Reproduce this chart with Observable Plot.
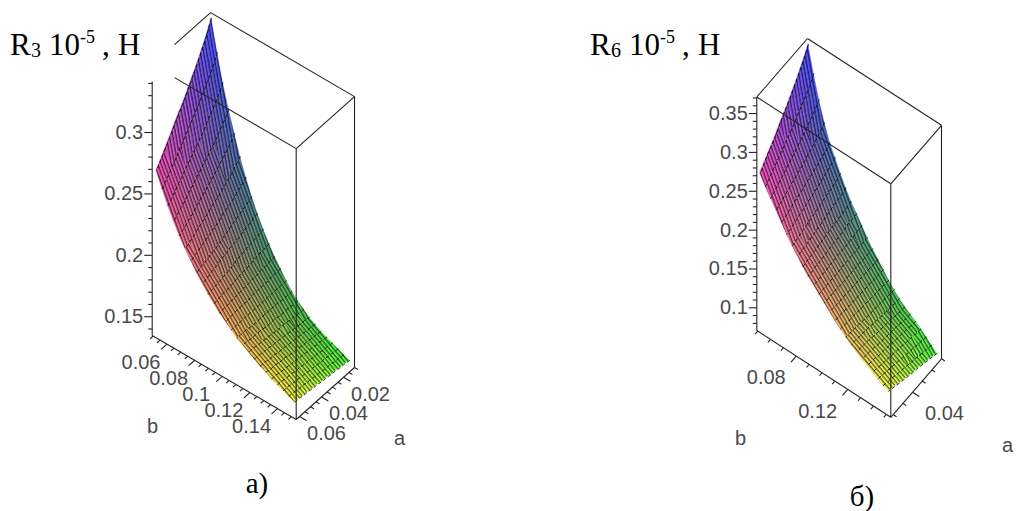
<!DOCTYPE html>
<html><head><meta charset="utf-8">
<script src="https://cdn.jsdelivr.net/npm/d3@7"></script>
<script src="https://cdn.jsdelivr.net/npm/@observablehq/plot@0.6"></script>
<style>html,body{margin:0;padding:0;background:#fff}svg{display:block}</style>
</head><body><div id="chart"></div>
<script>
// Grid of the surfaces
const aGrid = [.0100,.0142,.0183,.0225,.0267,.0308,.0350,.0392,.0433,.0475,.0517,.0558,.0600];
const bGrid = [.0500,.0542,.0583,.0625,.0667,.0708,.0750,.0792,.0833,.0875,.0917,.0958,.1000,.1042,.1083,.1125,.1167,.1208,.1250,.1292,.1333,.1375,.1417,.1458,.1500];
// R3 in thousandths: one row per b, one column per a
const r3 = [
[351,341,333,325,318,311,304,298,292,285,279,273,267],
[326,317,311,304,298,292,287,281,276,270,265,260,255],
[304,297,291,286,280,275,271,266,262,257,253,248,244],
[285,279,274,269,265,261,257,253,249,245,241,238,234],
[268,263,259,255,251,248,244,241,238,234,231,228,225],
[252,248,244,241,238,235,233,230,227,225,222,219,217],
[238,235,232,229,227,225,222,220,218,216,214,212,210],
[225,223,221,219,217,215,213,211,209,208,206,205,203],
[214,213,211,210,208,207,206,204,203,201,200,198,197],
[204,203,202,201,200,199,198,196,195,194,193,192,191],
[195,194,194,193,192,191,191,190,189,188,188,187,186],
[187,187,186,186,185,185,184,184,183,183,182,182,181],
[180,180,180,179,179,179,179,178,178,178,178,177,177],
[173,173,173,173,173,173,173,173,173,173,173,173,173],
[167,167,167,168,168,168,168,168,168,168,169,169,169],
[162,162,163,163,163,164,164,164,165,165,165,166,166],
[158,158,159,159,160,160,160,161,161,162,162,163,163],
[154,155,155,156,156,157,157,158,158,159,159,160,160],
[151,152,152,153,153,154,154,155,155,156,156,157,157],
[148,149,149,150,150,151,151,152,153,153,154,154,155],
[146,147,147,148,148,149,149,150,150,151,151,152,152],
[144,145,145,146,146,147,147,148,148,149,149,150,150],
[142,143,143,144,144,145,145,146,146,147,147,148,148],
[140,141,141,142,142,143,143,144,144,145,145,146,146],
[138,139,139,140,140,141,141,142,142,143,143,144,144]];
// R6 in thousandths
const r6 = [
[364,353,344,335,327,319,312,305,297,290,284,277,270],
[331,322,315,309,302,296,290,285,279,274,269,263,258],
[302,295,290,285,280,276,271,267,263,259,255,251,247],
[277,272,268,264,261,257,254,251,248,245,242,239,236],
[256,252,249,246,244,241,239,236,234,232,229,227,225],
[241,238,235,233,230,228,226,224,222,220,218,216,214],
[225,222,220,219,217,215,213,212,210,209,207,205,204],
[211,209,208,207,205,204,202,201,200,198,197,196,195],
[198,197,196,195,194,193,192,191,190,189,188,187,186],
[187,186,186,185,184,183,183,182,181,180,180,179,178],
[176,176,175,175,174,174,174,173,173,172,172,171,171],
[165,165,165,165,165,165,165,164,164,164,164,164,164],
[155,155,155,156,156,156,156,156,156,157,157,157,157],
[146,146,147,147,147,148,148,148,149,149,149,150,150],
[137,138,138,139,139,140,140,141,141,142,142,143,143],
[128,129,130,130,131,132,132,133,134,135,135,136,137],
[120,121,122,123,124,125,125,126,127,128,129,130,131],
[113,114,115,116,117,118,119,121,122,123,124,125,126],
[107,108,109,111,112,113,114,115,116,118,119,120,121],
[102,103,104,106,107,108,109,110,111,113,114,115,116],
[97,98,100,101,102,103,104,106,107,108,110,111,112],
[92,93,95,96,97,99,100,101,103,104,105,107,108],
[86,88,89,91,92,94,95,97,98,100,101,103,104],
[80,82,83,85,87,88,90,92,93,95,97,98,100],
[74,76,78,80,82,84,85,87,89,91,93,95,97]];
// Ticks and labels
const zMajor3 = [.15,.2,.25,.3];
const zMinor3 = [.14,.16,.17,.18,.19,.21,.22,.23,.24,.26,.27,.28,.29,.31,.32,.33,.34];
const bMajor3 = [.06,.08,.1,.12,.14];
const bMinor3 = [.05,.055,.065,.07,.075,.085,.09,.095,.105,.11,.115,.125,.13,.135,.145,.15];
const aMajor3 = [.02,.04,.06];
const aMinor3 = [.01,.015,.025,.03,.035,.045,.05,.055];
const zMajor6 = [.1,.15,.2,.25,.3,.35];
const zMinor6 = [.08,.09,.11,.12,.13,.14,.16,.17,.18,.19,.21,.22,.23,.24,.26,.27,.28,.29,.31,.32,.33,.34,.36,.37];
const bMajor6 = [.08,.12];
const bMinor6 = [.05,.06,.07,.09,.1,.11,.13,.14,.15];
const aMajor6 = [.04];
const aMinor6 = [.01,.02,.03,.05,.06];

const panels = [
 {table:r3, origin:[210,283], aVec:[-58.3,52], bVec:[144,84], aBox:[.01,.063], bBox:[.0493,.1535],
  zBase:.1347, zPx:1228, zTop:.3553, zAxisTop:.3415,
  aCut:.617, bCut:.155, zMajor:zMajor3, zMinor:zMinor3, bMajor:bMajor3, bMinor:bMinor3, aMajor:aMajor3, aMinor:aMinor3,
  bOff:[-26,18], aOff:[27,17], zRange:[.138,.351], bLab:[152,426], aLab:[399,438]},
 {table:r6, origin:[807,271.5], aVec:[-50.7,58.5], bVec:[134,86.8], aBox:[.01,.0625], bBox:[.0493,.1535],
  zBase:.0708, zPx:777, zTop:.3713, zAxisTop:.3713,
  aCut:1, bCut:0, zMajor:zMajor6, zMinor:zMinor6, bMajor:bMajor6, bMinor:bMinor6, aMajor:aMajor6, aMinor:aMinor6,
  bOff:[-30,22], aOff:[32,21], zRange:[.074,.364], bLab:[740,438], aLab:[1007,445]}
];
const hatchAngles = [10,20,30,40,50,60,70,80];

function projector(P){
  return (a,b,z)=>{
    const u=(a-P.aBox[0])/(P.aBox[1]-P.aBox[0]), v=(b-P.bBox[0])/(P.bBox[1]-P.bBox[0]);
    return [P.origin[0]+u*P.aVec[0]+v*P.bVec[0],
            P.origin[1]+u*P.aVec[1]+v*P.bVec[1]-(z-P.zBase)*P.zPx];
  };
}
function shade(P,i,j){
  const u=j/(aGrid.length-1), v=i/(bGrid.length-1);
  const w=(P.table[i][j]/1000-P.zRange[0])/(P.zRange[1]-P.zRange[0]);
  const c=t=>Math.min(255,Math.round(255*t));
  return `rgb(${c(.32+.68*u)},${c(.32+.68*v)},${c(.24+.76*w)})`;
}
function panelMarks(P){
  const pr=projector(P), cells=[], rows=[];
  P.table.forEach((row,i)=>row.forEach((zv,j)=>{
    const p=pr(aGrid[j],bGrid[i],zv/1000);
    rows.push({x:p[0],y:p[1],k:"r"+i,o:j});
    if(i<P.table.length-1 && j<row.length-1){
      const id=i+"_"+j, col=shade(P,i,j);
      const p01=pr(aGrid[j+1],bGrid[i],row[j+1]/1000);
      const p10=pr(aGrid[j],bGrid[i+1],P.table[i+1][j]/1000);
      const p11=pr(aGrid[j+1],bGrid[i+1],P.table[i+1][j+1]/1000);
      const deg=Math.atan2(p10[1]-p[1],p10[0]-p[0])*180/Math.PI;
      const ang=Math.max(10,Math.min(80,Math.round(deg/10)*10));
      const h="url(#hatch"+ang+")";
      cells.push({id,c:col,h,x1:p[0],y1:p[1],x2:p01[0],y2:p01[1]});
      cells.push({id,c:col,h,x1:p10[0],y1:p10[1],x2:p11[0],y2:p11[1]});
    }
  }));
  const [a0,a1]=P.aBox,[b0,b1]=P.bBox,zb=P.zBase,zt=P.zTop;
  const aC=a0+(a1-a0)*P.aCut, bC=b0+(b1-b0)*P.bCut;
  const seg=(s,e)=>{const A=pr(...s),B=pr(...e);return {x1:A[0],y1:A[1],x2:B[0],y2:B[1]};};
  const edges=[
    seg([a1,b0,zb],[a1,b1,zb]), seg([a1,b1,zb],[a0,b1,zb]),
    seg([a1,b0,zb],[a1,b0,P.zAxisTop]), seg([a1,b1,zb],[a1,b1,zt]), seg([a0,b1,zb],[a0,b1,zt]),
    seg([a1,b1,zt],[a0,b1,zt]), seg([a0,b1,zt],[a0,b0,zt]),
    seg([a0,b0,zt],[aC,b0,zt]), seg([a1,bC,zt],[a1,b1,zt])
  ];
  const unit=v=>{const n=Math.hypot(v[0],v[1]);return [v[0]/n,v[1]/n];};
  const ua=unit(P.aVec), ub=unit(P.bVec), ticks=[];
  const add=(p,d,len)=>ticks.push({x1:p[0],y1:p[1],x2:p[0]+d[0]*len,y2:p[1]+d[1]*len});
  P.zMajor.forEach(z=>add(pr(a1,b0,z),[-1,0],8));
  P.zMinor.forEach(z=>add(pr(a1,b0,z),[-1,0],4));
  P.bMajor.forEach(b=>add(pr(a1,b,zb),ua,8));
  P.bMinor.forEach(b=>add(pr(a1,b,zb),ua,4));
  P.aMajor.forEach(a=>add(pr(a,b1,zb),ub,8));
  P.aMinor.forEach(a=>add(pr(a,b1,zb),ub,4));
  const lab=(v,p,off)=>({x:p[0]+off[0],y:p[1]+off[1],t:String(v)});
  const zLabels=P.zMajor.map(z=>lab(z,pr(a1,b0,z),[-9,0]));
  const otherLabels=[
    ...P.bMajor.map(b=>lab(b,pr(a1,b,zb),P.bOff)),
    ...P.aMajor.map(a=>lab(a,pr(a,b1,zb),P.aOff))
  ];
  const names=[{x:P.bLab[0],y:P.bLab[1],t:"b"},{x:P.aLab[0],y:P.aLab[1],t:"a"}];
  const font={fontFamily:"Liberation Sans",fill:"#4a4a4a"};
  const cellOpts={x1:"x1",y1:"y1",x2:"x2",y2:"y2",z:"id"};
  return [
    Plot.area(cells,{...cellOpts,fill:"c",stroke:"c",strokeWidth:.4}),
    Plot.area(cells,{...cellOpts,fill:"h"}),
    Plot.line(rows,{x:"x",y:"y",z:"k",sort:"o",stroke:"#000",strokeWidth:1,strokeOpacity:.8,strokeDasharray:"3 3"}),
    Plot.link(edges,{x1:"x1",y1:"y1",x2:"x2",y2:"y2",stroke:"#222",strokeWidth:1.1}),
    Plot.link(ticks,{x1:"x1",y1:"y1",x2:"x2",y2:"y2",stroke:"#222",strokeWidth:1.1}),
    Plot.text(zLabels,{x:"x",y:"y",text:"t",textAnchor:"end",fontSize:20,...font}),
    Plot.text(otherLabels,{x:"x",y:"y",text:"t",fontSize:20,...font}),
    Plot.text(names,{x:"x",y:"y",text:"t",fontSize:20,...font})
  ];
}
const svg=Plot.plot({width:1032,height:511,margin:0,
  x:{domain:[0,1032],range:[0,1032],axis:null},
  y:{domain:[0,511],range:[0,511],axis:null},
  color:{type:"identity"},
  style:{background:"#fff"},
  marks:panels.flatMap(panelMarks)});
document.getElementById("chart").append(svg);

// Fine mesh texture used on the surfaces
const defs=d3.select(svg).insert("defs",":first-child");
hatchAngles.forEach(a=>{
  const p=defs.append("pattern").attr("id","hatch"+a).attr("patternUnits","userSpaceOnUse")
    .attr("width",10).attr("height",3.2).attr("patternTransform",`rotate(${a})`);
  p.append("rect").attr("width",10).attr("height",1.3).attr("fill","#000").attr("fill-opacity",.6);
});

// Hand-set headings and captions, kept as real text
const heading=(x0,sub)=>{
  const t=d3.select(svg).append("text").attr("y",55).attr("text-anchor","start").attr("font-family","Liberation Serif").attr("font-size",31).attr("fill","#000");
  t.append("tspan").attr("x",x0).text("R");
  t.append("tspan").attr("x",x0+21).attr("dy",2).attr("font-size",20).text(sub);
  t.append("tspan").attr("x",x0+39).attr("dy",-2).text("10");
  t.append("tspan").attr("x",x0+70).attr("dy",-12).attr("font-size",18).text("-5");
  t.append("tspan").attr("x",x0+92).attr("dy",12).text(",");
  t.append("tspan").attr("x",x0+108).text("H");
};
heading(10,"3"); heading(590,"6");
const cap=(x,y,s)=>d3.select(svg).append("text").attr("x",x).attr("y",y).attr("text-anchor","middle")
  .attr("font-family","Liberation Serif").attr("font-size",29).attr("fill","#000").text(s);
cap(257,493,"a)"); cap(862,506,"б)");
</script></body></html>
